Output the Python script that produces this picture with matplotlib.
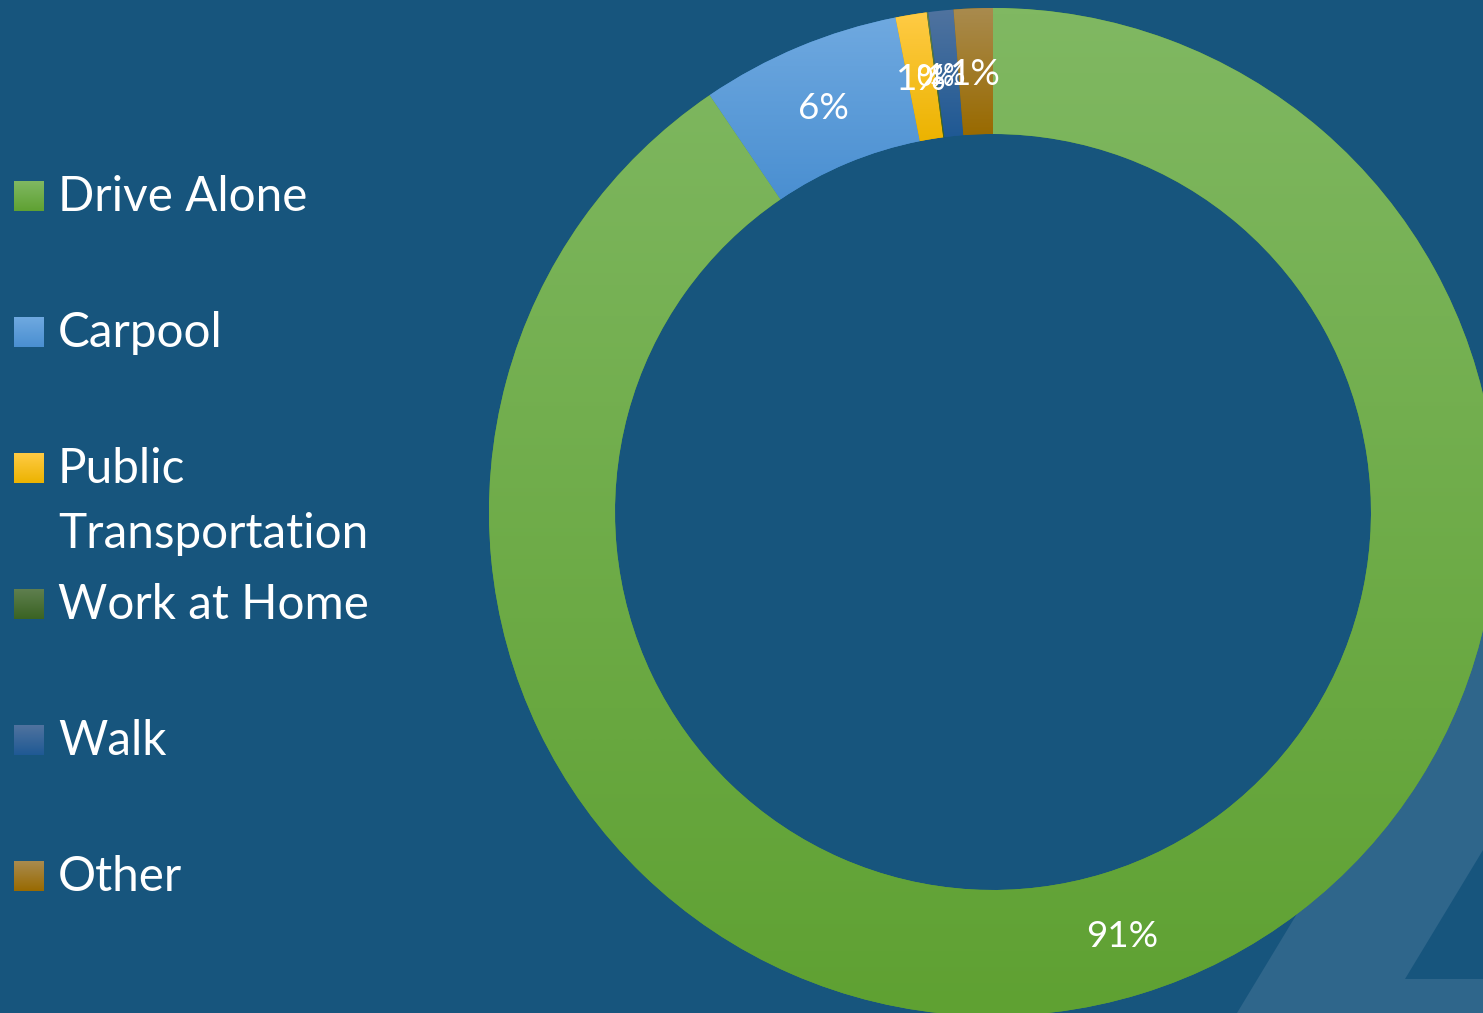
import numpy as np
import matplotlib
import matplotlib.pyplot as plt
from matplotlib.colors import LinearSegmentedColormap
from matplotlib.patches import Polygon

matplotlib.rcParams['font.family'] = ['Lato', 'DejaVu Sans']

############ DATA ##################
categories = ['Drive Alone', 'Carpool', 'Public\nTransportation', 'Work at Home', 'Walk', 'Other']
shares = [90.5, 6.4, 1.0, 0.05, 0.8, 1.25]   # percent of commuters
labels = ['91%', '6%', '1%', '0%', '1%', '1%']
####################################

# (top, bottom) of each slice's gradient
grad_colors = [('#80b862', '#5fa132'),
               ('#6fa9e0', '#4a8fd1'),
               ('#ffcb45', '#ecb300'),
               ('#5f7f4f', '#3a6322'),
               ('#50739f', '#1f5994'),
               ('#a98b4f', '#996a00')]
bg = '#17557d'
W, H = 1483, 1013

fig = plt.figure(figsize=(W / 100, H / 100), dpi=100)
fig.patch.set_facecolor(bg)
ax = fig.add_axes([0, 0, 1, 1])
ax.set_facecolor(bg)
ax.axis('off')

# faint watermark shape in the lower right corner (pixel coords, y down)
wm = [(1237, 1013), (1483, 606), (1483, 850), (1405, 979), (1483, 979), (1483, 1013)]
ax.add_patch(Polygon([(x, H - y) for x, y in wm], closed=True, facecolor='#2f668b',
                     edgecolor='none', zorder=0))

# donut, center (993, 512) px, outer r 504, inner r 378
cx, cy, R, w = 993, H - 512, 504, 126
wedges, _ = ax.pie(shares, center=(cx, cy), radius=R, startangle=90, counterclock=False,
                   colors=[c[1] for c in grad_colors],
                   wedgeprops=dict(width=w, edgecolor='none'), frame=True)

grad = np.linspace(0, 1, 256).reshape(-1, 1)
for wd, (top, bot) in zip(wedges, grad_colors):
    ext = wd.get_path().get_extents()
    cm = LinearSegmentedColormap.from_list('g', [bot, top])
    im = ax.imshow(grad, cmap=cm, origin='lower', aspect='auto', interpolation='bilinear',
                   extent=[ext.x0, ext.x1, ext.y0, ext.y1], zorder=2)
    im.set_clip_path(wd)

# percentage labels at ring mid radius, slice mid angle
rmid = R - w / 2
sizes = [26.5, 26.5, 26.5, 20, 20, 26.5]
for wd, lab, fs in zip(wedges, labels, sizes):
    ang = np.deg2rad((wd.theta1 + wd.theta2) / 2)
    ax.text(cx + rmid * np.cos(ang), cy + rmid * np.sin(ang) - 3, lab, color='white',
            fontsize=fs, ha='center', va='center', zorder=5)

# legend, drawn by hand so the squares keep the gradient
for i, (cat, (top, bot)) in enumerate(zip(categories, grad_colors)):
    y_top = 181 + 136 * i
    cm = LinearSegmentedColormap.from_list('g', [bot, top])
    ax.imshow(grad, cmap=cm, origin='lower', aspect='auto', interpolation='bilinear',
              extent=[14, 44, H - y_top - 30, H - y_top], zorder=3)
    # wrapped names continue downwards, first line sits on the square
    for j, line in enumerate(cat.split('\n')):
        ax.text(58, H - y_top - 30 - 65 * j, line, color='white', fontsize=34.3,
                ha='left', va='baseline', zorder=5)

ax.set_xlim(0, W)
ax.set_ylim(0, H)
ax.set_aspect('auto')

fig.savefig('out.png', dpi=100, facecolor=bg)
